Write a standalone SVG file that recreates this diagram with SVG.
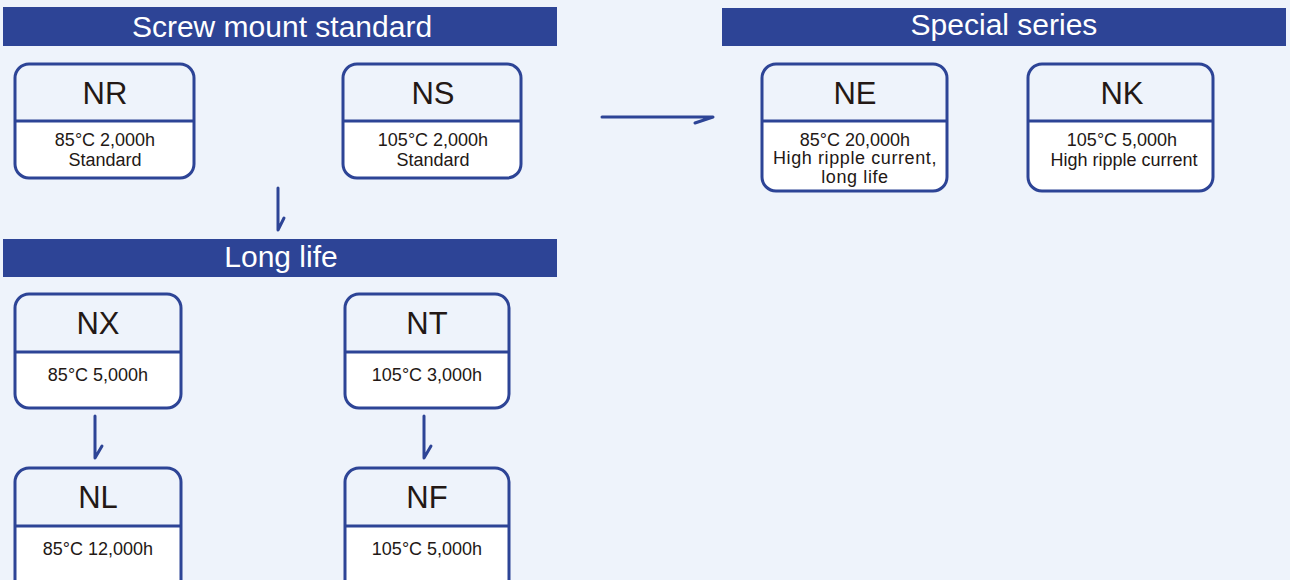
<svg xmlns="http://www.w3.org/2000/svg" width="1290" height="580" viewBox="0 0 1290 580">
<defs>
<style>
.bar{fill:#2D4496}
.htxt{font-family:"Liberation Sans",Arial,sans-serif;font-size:30px;fill:#ffffff;text-anchor:middle}
.box{fill:#ffffff;stroke:none}
.top{fill:#EEF3FB}
.out{fill:none;stroke:#2D4496;stroke-width:3}
.div{stroke:#2D4496;stroke-width:3}
.ttl{font-family:"Liberation Sans",Arial,sans-serif;font-size:31px;fill:#231815;text-anchor:middle}
.sub{font-family:"Liberation Sans",Arial,sans-serif;font-size:18px;fill:#231815;text-anchor:middle}
.con{fill:none;stroke:#2D4496;stroke-width:3;stroke-linecap:round;stroke-linejoin:round}
</style>
</defs>
<rect width="1290" height="580" fill="#EEF3FB"/>

<g id="hdr-screw"><rect class="bar" x="3" y="7" width="554" height="39"/><text class="htxt" x="282" y="37">Screw mount standard</text></g>
<g id="hdr-special"><rect class="bar" x="722" y="8" width="564" height="38"/><text class="htxt" x="1004" y="35">Special series</text></g>
<g id="hdr-long"><rect class="bar" x="3" y="239" width="554" height="38"/><text class="htxt" x="281" y="267">Long life</text></g>

<g id="NR">
<rect class="box" x="15" y="64" width="179" height="114" rx="14"/>
<path class="top" d="M15 121 V78 A14 14 0 0 1 29 64 H180 A14 14 0 0 1 194 78 V121 Z"/>
<line class="div" x1="15" y1="121" x2="194" y2="121"/>
<rect class="out" x="15" y="64" width="179" height="114" rx="14"/>
<text class="ttl" x="105" y="104">NR</text>
<text class="sub" x="105" y="146">85°C 2,000h</text>
<text class="sub" x="105" y="166">Standard</text>
</g>

<g id="NS">
<rect class="box" x="343" y="64" width="178" height="114" rx="14"/>
<path class="top" d="M343 121 V78 A14 14 0 0 1 357 64 H507 A14 14 0 0 1 521 78 V121 Z"/>
<line class="div" x1="343" y1="121" x2="521" y2="121"/>
<rect class="out" x="343" y="64" width="178" height="114" rx="14"/>
<text class="ttl" x="433" y="104">NS</text>
<text class="sub" x="433" y="146">105°C 2,000h</text>
<text class="sub" x="433" y="166">Standard</text>
</g>

<g id="NE">
<rect class="box" x="762" y="64" width="185" height="127" rx="14"/>
<path class="top" d="M762 121 V78 A14 14 0 0 1 776 64 H933 A14 14 0 0 1 947 78 V121 Z"/>
<line class="div" x1="762" y1="121" x2="947" y2="121"/>
<rect class="out" x="762" y="64" width="185" height="127" rx="14"/>
<text class="ttl" x="855" y="104">NE</text>
<text class="sub" x="855" y="146">85°C 20,000h</text>
<text class="sub" x="855" y="164" letter-spacing="0.6">High ripple current,</text>
<text class="sub" x="855" y="183" letter-spacing="0.6">long life</text>
</g>

<g id="NK">
<rect class="box" x="1028" y="64" width="185" height="127" rx="14"/>
<path class="top" d="M1028 121 V78 A14 14 0 0 1 1042 64 H1199 A14 14 0 0 1 1213 78 V121 Z"/>
<line class="div" x1="1028" y1="121" x2="1213" y2="121"/>
<rect class="out" x="1028" y="64" width="185" height="127" rx="14"/>
<text class="ttl" x="1122" y="104">NK</text>
<text class="sub" x="1122" y="146">105°C 5,000h</text>
<text class="sub" x="1124" y="166">High ripple current</text>
</g>

<g id="NX">
<rect class="box" x="15" y="294" width="166" height="114" rx="14"/>
<path class="top" d="M15 352 V308 A14 14 0 0 1 29 294 H167 A14 14 0 0 1 181 308 V352 Z"/>
<line class="div" x1="15" y1="352" x2="181" y2="352"/>
<rect class="out" x="15" y="294" width="166" height="114" rx="14"/>
<text class="ttl" x="98" y="334">NX</text>
<text class="sub" x="98" y="381">85°C 5,000h</text>
</g>

<g id="NT">
<rect class="box" x="345" y="294" width="164" height="114" rx="14"/>
<path class="top" d="M345 352 V308 A14 14 0 0 1 359 294 H495 A14 14 0 0 1 509 308 V352 Z"/>
<line class="div" x1="345" y1="352" x2="509" y2="352"/>
<rect class="out" x="345" y="294" width="164" height="114" rx="14"/>
<text class="ttl" x="427" y="334">NT</text>
<text class="sub" x="427" y="381">105°C 3,000h</text>
</g>

<g id="NL">
<rect class="box" x="15" y="468" width="166" height="130" rx="14"/>
<path class="top" d="M15 526 V482 A14 14 0 0 1 29 468 H167 A14 14 0 0 1 181 482 V526 Z"/>
<line class="div" x1="15" y1="526" x2="181" y2="526"/>
<rect class="out" x="15" y="468" width="166" height="130" rx="14"/>
<text class="ttl" x="98" y="508">NL</text>
<text class="sub" x="98" y="555">85°C 12,000h</text>
</g>

<g id="NF">
<rect class="box" x="345" y="468" width="164" height="130" rx="14"/>
<path class="top" d="M345 526 V482 A14 14 0 0 1 359 468 H495 A14 14 0 0 1 509 482 V526 Z"/>
<line class="div" x1="345" y1="526" x2="509" y2="526"/>
<rect class="out" x="345" y="468" width="164" height="130" rx="14"/>
<text class="ttl" x="427" y="508">NF</text>
<text class="sub" x="427" y="555">105°C 5,000h</text>
</g>

<g id="connectors">
<path class="con" d="M278 188 V230 L284 218"/>
<path class="con" d="M95 416 V458 L102 446"/>
<path class="con" d="M424 416 V458 L431 446"/>
<path class="con" d="M602 117 H713 L695 123"/>
</g>
</svg>
